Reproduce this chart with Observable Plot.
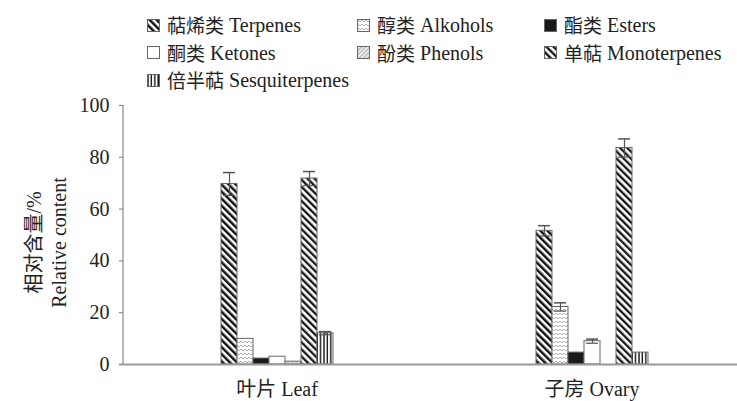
<!DOCTYPE html>
<html>
<head>
<meta charset="utf-8">
<script src="https://cdn.jsdelivr.net/npm/d3@7"></script>
<script src="https://cdn.jsdelivr.net/npm/@observablehq/plot@0.6"></script>
<style>
  body { margin: 0; background: #fff; }
  #wrap { position: relative; width: 737px; height: 401px; overflow: hidden; font-family: "Liberation Serif", "Noto Sans CJK SC", serif; color: #222; }
  #legend { position: absolute; left: 147px; top: 15px; display: grid; grid-template-columns: 210px 187px 200px; row-gap: 7.5px; font-size: 20px; line-height: 20px; z-index: 2; }
  .item { display: flex; align-items: center; white-space: nowrap; }
  .item svg { margin-right: 7px; flex: none; }
  .cjk { font-family: "Noto Sans CJK SC", sans-serif; font-size: 19px; margin-right: 5px; }
  #chart { position: absolute; left: 0; top: 0; }
  #chart svg { max-width: none !important; }
</style>
</head>
<body>
<svg width="0" height="0" style="position:absolute">
  <defs>
    <pattern id="p-terp" patternUnits="userSpaceOnUse" width="5" height="5" patternTransform="rotate(-45)">
      <rect width="5" height="5" fill="#fff"/>
      <line x1="1.25" y1="0" x2="1.25" y2="5" stroke="#111" stroke-width="2.5"/>
    </pattern>
    <pattern id="p-alc" patternUnits="userSpaceOnUse" width="4" height="4">
      <rect width="4" height="4" fill="#fff"/>
      <path d="M0,2 L1,1 L2,2 L3,3 L4,2" fill="none" stroke="#999" stroke-width="0.8"/>
    </pattern>
    <pattern id="p-phen" patternUnits="userSpaceOnUse" width="3" height="3" patternTransform="rotate(45)">
      <rect width="3" height="3" fill="#fff"/>
      <line x1="1" y1="0" x2="1" y2="3" stroke="#777" stroke-width="0.9"/>
    </pattern>
    <pattern id="p-mono" patternUnits="userSpaceOnUse" width="5" height="5" patternTransform="rotate(-45)">
      <rect width="5" height="5" fill="#fff"/>
      <line x1="1.2" y1="0" x2="1.2" y2="5" stroke="#111" stroke-width="2.3"/>
    </pattern>
    <pattern id="p-sesq" patternUnits="userSpaceOnUse" width="3.4" height="3.4">
      <rect width="3.4" height="3.4" fill="#fff"/>
      <line x1="1" y1="0" x2="1" y2="3.4" stroke="#111" stroke-width="1.4"/>
    </pattern>
  </defs>
</svg>
<div id="wrap">
  <div id="legend"></div>
  <div id="chart"></div>
</div>
<script>
// ---- data ----
const groups = ["叶片 Leaf", "子房 Ovary"];
const series = ["萜烯类 Terpenes", "醇类 Alkohols", "酯类 Esters", "酮类 Ketones", "酚类 Phenols", "单萜 Monoterpenes", "倍半萜 Sesquiterpenes"];
const leafValues = [69.7, 9.9, 2.3, 3.0, 1.1, 71.8, 12.1];
const leafErrors = [4.4, 0, 0, 0, 0, 2.7, 0.6];
const ovaryValues = [51.6, 22.2, 4.6, 9.0, 0, 83.6, 4.6];
const ovaryErrors = [2.0, 1.6, 0, 0.8, 0, 3.5, 0];
const yTicks = [0, 20, 40, 60, 80, 100];
const yLabelLines = ["相对含量/%", "Relative content"];

// ---- styles ----
const fills = ["url(#p-terp)", "url(#p-alc)", "#1a1a1a", "#ffffff", "url(#p-phen)", "url(#p-mono)", "url(#p-sesq)"];
const FONT = '"Liberation Serif", "Noto Sans CJK SC", serif';

const rows = [];
[leafValues, ovaryValues].forEach((vals, gi) => {
  const errs = gi === 0 ? leafErrors : ovaryErrors;
  series.forEach((s, i) => rows.push({group: groups[gi], series: s, value: vals[i], err: errs[i]}));
});
const errRows = rows.filter(d => d.err > 0);

// legend
const legend = document.getElementById("legend");
series.forEach((s, i) => {
  const [cn, ...en] = s.split(" ");
  const div = document.createElement("div");
  div.className = "item";
  div.innerHTML = `<svg width="13" height="13"><rect x="0.5" y="0.5" width="12" height="12" fill="${fills[i]}" stroke="#666" stroke-width="1"/></svg><span class="cjk">${cn}</span><span>${en.join(" ")}</span>`;
  legend.appendChild(div);
});

const chart = Plot.plot({
  width: 749,
  height: 401,
  marginTop: 105,
  marginBottom: 37,
  marginLeft: 119,
  marginRight: 0,
  style: `font-family: ${FONT}; font-size: 20px; color: #222; background: transparent; max-width: none;`,
  fx: {domain: groups, padding: 0, label: null, axis: null},
  x: {domain: series, paddingInner: 0, paddingOuter: 5.9, axis: null},
  y: {domain: [0, 100], label: null, axis: null},
  color: {domain: series, range: fills},
  marks: [
    Plot.axisY(yTicks, {anchor: "left", tickSize: 4, tickPadding: 10, fontSize: 20, stroke: "#777", fill: "#222", dx: 4}),
    Plot.axisFx({anchor: "bottom", tickSize: 0, tickPadding: 17, fontSize: 20, fill: "#222", label: null}),
    Plot.barY(rows, {fx: "group", x: "series", y: "value", fill: "series", stroke: "#666", strokeWidth: 1}),
    Plot.ruleX(errRows, {fx: "group", x: "series", y1: d => d.value - d.err, y2: d => d.value + d.err, stroke: "#555", strokeWidth: 1.2}),
    Plot.tickY(errRows, {fx: "group", x: "series", y: d => d.value + d.err, stroke: "#555", strokeWidth: 1.5, inset: 2}),
    Plot.tickY(errRows, {fx: "group", x: "series", y: d => d.value - d.err, stroke: "#555", strokeWidth: 1.2, inset: 2}),
    Plot.ruleY([0], {stroke: "#999", strokeWidth: 2})
  ]
});
document.getElementById("chart").appendChild(chart);

// y axis line and title
const yS = chart.scale("y");
const svg = d3.select(chart);
svg.append("line")
  .attr("x1", 123).attr("x2", 123)
  .attr("y1", yS.range[0]).attr("y2", yS.range[1])
  .attr("stroke", "#888").attr("stroke-width", 1.2);
const yMid = (yS.range[0] + yS.range[1]) / 2 + 8;
yLabelLines.forEach((t, i) => {
  svg.append("text")
    .attr("transform", `translate(${36 + i * 25},${yMid}) rotate(-90)`)
    .attr("text-anchor", "middle")
    .attr("dominant-baseline", "middle")
    .attr("font-size", 20)
    .attr("fill", "#222")
    .text(t);
});
</script>
</body>
</html>
